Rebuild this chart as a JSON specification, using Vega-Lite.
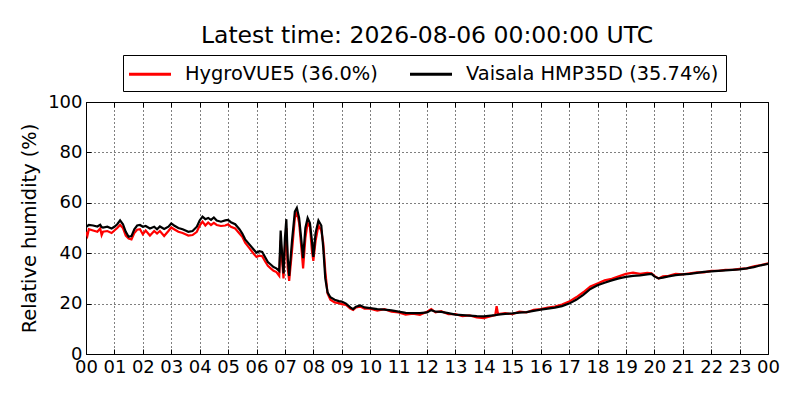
{
  "$schema": "https://vega.github.io/schema/vega-lite/v6.json",
  "width": 682,
  "height": 252,
  "autosize": {"type": "none"},
  "padding": {"left": 86, "top": 102, "right": 32, "bottom": 46},
  "background": "white",
  "title": {
    "text": "Latest time: 2026-08-06 00:00:00 UTC",
    "font": "DejaVu Sans",
    "fontSize": 23.5,
    "fontWeight": "normal",
    "color": "black",
    "anchor": "middle",
    "offset": 7
  },
  "config": {
    "view": {"stroke": "black", "strokeWidth": 1},
    "font": "DejaVu Sans",
    "axis": {
      "labelFont": "DejaVu Sans",
      "labelFontSize": 18,
      "labelColor": "black",
      "titleFont": "DejaVu Sans",
      "titleFontSize": 19.4,
      "titleFontWeight": "normal",
      "titleColor": "black",
      "domain": false,
      "tickColor": "black",
      "tickSize": -5,
      "tickWidth": 1,
      "gridColor": "black",
      "gridOpacity": 1,
      "gridDash": [1, 3],
      "gridWidth": 1
    }
  },
  "data": {
    "values": [
      {"h": 0.0, "r": 48.5, "b": 50.5},
      {"h": 0.05, "r": 47.0, "b": 50.8},
      {"h": 0.1, "r": 49.5, "b": 51.2},
      {"h": 0.25, "r": 49.0, "b": 51.0},
      {"h": 0.4, "r": 48.5, "b": 50.6},
      {"h": 0.5, "r": 49.8, "b": 51.3},
      {"h": 0.55, "r": 47.2, "b": 50.4},
      {"h": 0.6, "r": 48.5, "b": 50.2},
      {"h": 0.75, "r": 48.8, "b": 50.5},
      {"h": 0.9, "r": 48.0, "b": 49.8},
      {"h": 1.0, "r": 49.0, "b": 50.5},
      {"h": 1.1, "r": 50.0, "b": 51.5},
      {"h": 1.2, "r": 51.2, "b": 53.0},
      {"h": 1.3, "r": 50.0, "b": 51.5},
      {"h": 1.4, "r": 47.0, "b": 48.5},
      {"h": 1.5, "r": 45.8, "b": 46.5},
      {"h": 1.6, "r": 45.5, "b": 46.8},
      {"h": 1.7, "r": 48.0, "b": 49.5},
      {"h": 1.8, "r": 49.3, "b": 51.0},
      {"h": 1.9, "r": 49.5, "b": 51.2},
      {"h": 2.0, "r": 47.5, "b": 50.5},
      {"h": 2.1, "r": 49.0, "b": 50.8},
      {"h": 2.25, "r": 47.0, "b": 49.8},
      {"h": 2.4, "r": 48.8, "b": 50.5},
      {"h": 2.5, "r": 47.8, "b": 49.5},
      {"h": 2.6, "r": 48.8, "b": 50.6},
      {"h": 2.75, "r": 46.8, "b": 49.6},
      {"h": 2.9, "r": 48.8, "b": 50.5},
      {"h": 3.0, "r": 50.2, "b": 51.8},
      {"h": 3.1, "r": 49.5, "b": 51.0},
      {"h": 3.25, "r": 48.5, "b": 50.0},
      {"h": 3.4, "r": 48.0, "b": 49.5},
      {"h": 3.5, "r": 47.5, "b": 49.0},
      {"h": 3.6, "r": 47.0, "b": 48.5},
      {"h": 3.75, "r": 47.2, "b": 48.8},
      {"h": 3.9, "r": 48.5, "b": 50.5},
      {"h": 4.0, "r": 51.0, "b": 53.0},
      {"h": 4.1, "r": 52.5, "b": 54.5},
      {"h": 4.2, "r": 51.0, "b": 53.5},
      {"h": 4.3, "r": 52.2, "b": 54.0},
      {"h": 4.4, "r": 51.2, "b": 53.2},
      {"h": 4.5, "r": 52.0, "b": 54.2},
      {"h": 4.6, "r": 51.2, "b": 53.0},
      {"h": 4.75, "r": 50.8, "b": 52.5},
      {"h": 4.9, "r": 51.0, "b": 53.0},
      {"h": 5.0, "r": 51.5, "b": 53.2},
      {"h": 5.1, "r": 50.5, "b": 52.3},
      {"h": 5.25, "r": 49.8, "b": 51.5},
      {"h": 5.4, "r": 47.8, "b": 49.5},
      {"h": 5.5, "r": 46.5, "b": 47.8},
      {"h": 5.6, "r": 44.2, "b": 45.5},
      {"h": 5.75, "r": 42.0, "b": 43.5},
      {"h": 5.9, "r": 39.8, "b": 41.5},
      {"h": 6.0, "r": 38.5, "b": 40.2},
      {"h": 6.1, "r": 39.0, "b": 40.8},
      {"h": 6.2, "r": 38.8, "b": 40.5},
      {"h": 6.3, "r": 36.8, "b": 38.5},
      {"h": 6.4, "r": 35.0, "b": 36.5},
      {"h": 6.5, "r": 34.0, "b": 35.5},
      {"h": 6.6, "r": 33.0, "b": 34.5},
      {"h": 6.7, "r": 32.5, "b": 34.0},
      {"h": 6.8, "r": 31.0, "b": 33.0},
      {"h": 6.85, "r": 45.0, "b": 49.0},
      {"h": 6.9, "r": 37.0, "b": 40.0},
      {"h": 6.95, "r": 30.0, "b": 32.0},
      {"h": 7.0, "r": 42.0, "b": 46.0},
      {"h": 7.05, "r": 50.0, "b": 53.5},
      {"h": 7.1, "r": 34.0, "b": 38.0},
      {"h": 7.15, "r": 29.0, "b": 31.0},
      {"h": 7.25, "r": 41.0, "b": 45.0},
      {"h": 7.35, "r": 54.0, "b": 56.5},
      {"h": 7.42, "r": 56.5, "b": 58.0},
      {"h": 7.5, "r": 52.0, "b": 54.0},
      {"h": 7.58, "r": 42.0, "b": 45.0},
      {"h": 7.64, "r": 34.0, "b": 38.0},
      {"h": 7.72, "r": 46.0, "b": 50.0},
      {"h": 7.8, "r": 52.0, "b": 54.0},
      {"h": 7.88, "r": 50.5, "b": 52.0},
      {"h": 7.95, "r": 41.0, "b": 45.0},
      {"h": 8.0, "r": 37.0, "b": 38.5},
      {"h": 8.08, "r": 45.0, "b": 48.0},
      {"h": 8.18, "r": 51.0, "b": 53.0},
      {"h": 8.28, "r": 49.0, "b": 51.0},
      {"h": 8.35, "r": 44.0, "b": 42.0},
      {"h": 8.42, "r": 33.0, "b": 30.0},
      {"h": 8.5, "r": 24.0, "b": 24.5},
      {"h": 8.6, "r": 21.5, "b": 22.5},
      {"h": 8.75, "r": 20.5, "b": 21.5},
      {"h": 8.9, "r": 20.2, "b": 21.0},
      {"h": 9.0, "r": 19.8, "b": 20.8},
      {"h": 9.15, "r": 19.5, "b": 20.0},
      {"h": 9.3, "r": 18.0, "b": 18.5},
      {"h": 9.4, "r": 17.5, "b": 17.8},
      {"h": 9.5, "r": 18.5, "b": 18.8},
      {"h": 9.65, "r": 18.8, "b": 19.3},
      {"h": 9.8, "r": 18.0, "b": 18.5},
      {"h": 10.0, "r": 18.0, "b": 18.2},
      {"h": 10.25, "r": 17.2, "b": 17.8},
      {"h": 10.5, "r": 17.8, "b": 17.6},
      {"h": 10.75, "r": 16.8, "b": 17.3},
      {"h": 11.0, "r": 16.5, "b": 16.8},
      {"h": 11.25, "r": 15.6, "b": 16.3},
      {"h": 11.5, "r": 16.0, "b": 16.2},
      {"h": 11.75, "r": 15.5, "b": 16.2},
      {"h": 12.0, "r": 16.8, "b": 16.5},
      {"h": 12.15, "r": 17.8, "b": 17.4},
      {"h": 12.3, "r": 16.5, "b": 16.8},
      {"h": 12.5, "r": 17.0, "b": 16.7},
      {"h": 12.75, "r": 15.8, "b": 16.2},
      {"h": 13.0, "r": 15.8, "b": 15.6},
      {"h": 13.25, "r": 15.0, "b": 15.4},
      {"h": 13.5, "r": 15.3, "b": 15.2},
      {"h": 13.75, "r": 14.5, "b": 15.0},
      {"h": 14.0, "r": 14.2, "b": 14.9},
      {"h": 14.25, "r": 15.0, "b": 15.2},
      {"h": 14.4, "r": 15.4, "b": 15.4},
      {"h": 14.45, "r": 19.0, "b": 15.5},
      {"h": 14.5, "r": 15.8, "b": 15.6},
      {"h": 14.75, "r": 16.2, "b": 15.9},
      {"h": 15.0, "r": 15.8, "b": 16.1},
      {"h": 15.25, "r": 16.8, "b": 16.4},
      {"h": 15.5, "r": 16.5, "b": 16.6},
      {"h": 15.75, "r": 17.5, "b": 17.1},
      {"h": 16.0, "r": 17.8, "b": 17.6},
      {"h": 16.25, "r": 18.4, "b": 18.0},
      {"h": 16.5, "r": 18.8, "b": 18.4},
      {"h": 16.75, "r": 19.6, "b": 19.0},
      {"h": 17.0, "r": 20.8, "b": 20.0},
      {"h": 17.25, "r": 22.5, "b": 21.5},
      {"h": 17.5, "r": 24.5, "b": 23.5},
      {"h": 17.75, "r": 26.8, "b": 25.8},
      {"h": 18.0, "r": 28.0, "b": 27.3},
      {"h": 18.25, "r": 29.2, "b": 28.3},
      {"h": 18.5, "r": 29.8, "b": 29.2},
      {"h": 18.75, "r": 30.8, "b": 30.0},
      {"h": 19.0, "r": 31.8, "b": 30.6},
      {"h": 19.25, "r": 32.3, "b": 31.0},
      {"h": 19.5, "r": 31.8, "b": 31.2},
      {"h": 19.75, "r": 32.2, "b": 31.6},
      {"h": 19.9, "r": 32.0, "b": 31.8},
      {"h": 20.0, "r": 31.0, "b": 30.8},
      {"h": 20.15, "r": 30.0, "b": 30.0},
      {"h": 20.3, "r": 30.8, "b": 30.3},
      {"h": 20.5, "r": 31.0, "b": 30.8},
      {"h": 20.75, "r": 31.8, "b": 31.3},
      {"h": 21.0, "r": 31.6, "b": 31.6},
      {"h": 21.25, "r": 32.0, "b": 31.8},
      {"h": 21.5, "r": 32.4, "b": 32.2},
      {"h": 21.75, "r": 32.4, "b": 32.6},
      {"h": 22.0, "r": 33.0, "b": 32.8},
      {"h": 22.25, "r": 33.0, "b": 33.0},
      {"h": 22.5, "r": 33.4, "b": 33.2},
      {"h": 22.75, "r": 33.4, "b": 33.4},
      {"h": 23.0, "r": 33.8, "b": 33.6},
      {"h": 23.25, "r": 34.0, "b": 34.0},
      {"h": 23.5, "r": 34.8, "b": 34.5},
      {"h": 23.75, "r": 35.3, "b": 35.2},
      {"h": 24.0, "r": 36.0, "b": 35.74}
    ]
  },
  "transform": [{"fold": ["r", "b"], "as": ["sensor", "rh"]}],
  "resolve": {"axis": {"x": "independent", "y": "independent"}},
  "layer": [
    {
      "mark": {"type": "line", "strokeWidth": 2.2, "clip": true},
      "encoding": {
        "x": {
          "field": "h",
          "type": "quantitative",
          "scale": {"domain": [0, 24], "nice": false, "zero": false},
          "axis": {
            "title": null,
            "values": [0,1,2,3,4,5,6,7,8,9,10,11,12,13,14,15,16,17,18,19,20,21,22,23,24],
            "labelExpr": "datum.value == 24 ? '00' : (datum.value < 10 ? '0' + datum.value : '' + datum.value)",
            "labelPadding": 9,
            "labelFlush": false,
            "labelOverlap": false,
            "grid": true
          }
        },
        "y": {
          "field": "rh",
          "type": "quantitative",
          "scale": {"domain": [0, 100], "nice": false},
          "axis": {
            "title": "Relative humidity (%)",
            "values": [0, 20, 40, 60, 80, 100],
            "labelPadding": 9,
            "titlePadding": 8,
            "grid": true
          }
        },
        "color": {
          "field": "sensor",
          "type": "nominal",
          "scale": {"domain": ["r", "b"], "range": ["#ff0000", "#000000"]},
          "legend": {
            "title": null,
            "orient": "none",
            "legendX": 37,
            "legendY": -47,
            "direction": "horizontal",
            "labelExpr": "datum.value == 'r' ? 'HygroVUE5 (36.0%)' : 'Vaisala HMP35D (35.74%)'",
            "labelFont": "DejaVu Sans",
            "labelFontSize": 19.4,
            "labelColor": "black",
            "labelLimit": 400,
            "symbolType": "M-2,0H2",
            "symbolSize": 441,
            "symbolStrokeWidth": 3,
            "symbolOffset": 8,
            "labelOffset": 23,
            "columnPadding": 26,
            "padding": 7,
            "strokeColor": "black",
            "fillColor": "white",
            "cornerRadius": 0
          }
        }
      }
    },
    {
      "mark": {"type": "line", "strokeOpacity": 0},
      "encoding": {
        "x": {
          "field": "h",
          "type": "quantitative",
          "axis": {
            "orient": "top",
            "title": null,
            "labels": false,
            "grid": false,
            "values": [0,1,2,3,4,5,6,7,8,9,10,11,12,13,14,15,16,17,18,19,20,21,22,23,24]
          }
        },
        "y": {
          "field": "rh",
          "type": "quantitative",
          "axis": {
            "orient": "right",
            "title": null,
            "labels": false,
            "grid": false,
            "values": [0, 20, 40, 60, 80, 100]
          }
        }
      }
    }
  ]
}
